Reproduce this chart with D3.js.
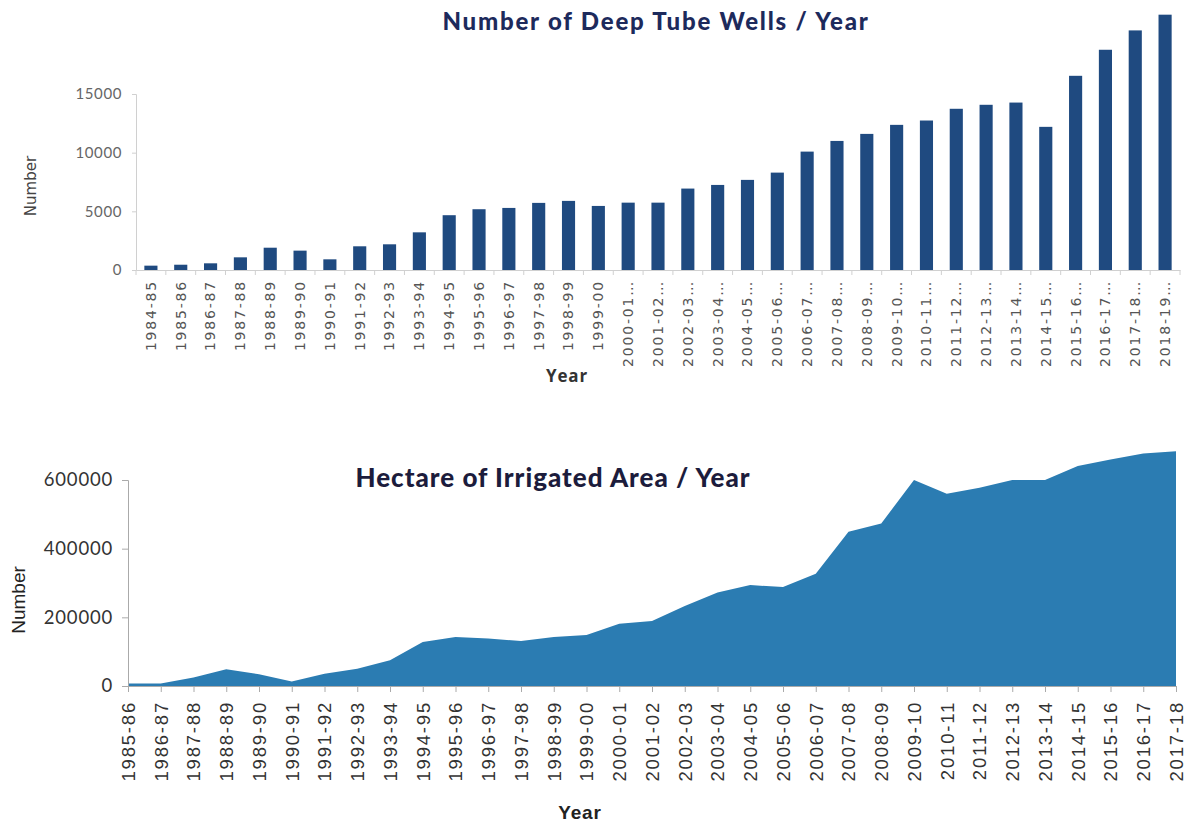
<!DOCTYPE html>
<html>
<head>
<meta charset="utf-8">
<script src="https://cdnjs.cloudflare.com/ajax/libs/d3/7.8.5/d3.min.js"></script>
<style>
  html, body { margin: 0; padding: 0; background: #fff; }
  svg { display: block; }
</style>
</head>
<body>
<svg id="chart" width="1186" height="822"></svg>
<script>
// ---------- Data ----------
const wellYears = ["1984-85","1985-86","1986-87","1987-88","1988-89","1989-90","1990-91","1991-92","1992-93","1993-94","1994-95","1995-96","1996-97","1997-98","1998-99","1999-00","2000-01…","2001-02…","2002-03…","2003-04…","2004-05…","2005-06…","2006-07…","2007-08…","2008-09…","2009-10…","2010-11…","2011-12…","2012-13…","2013-14…","2014-15…","2015-16…","2016-17…","2017-18…","2018-19…"];
const wellCounts = [370,450,570,1080,1900,1650,910,2020,2190,3210,4670,5180,5290,5720,5890,5460,5740,5740,6940,7250,7680,8300,10090,11000,11600,12370,12740,13740,14080,14270,12200,16550,18770,20420,21760];
const wellTicks = [0,5000,10000,15000];

const areaYears = ["1985-86","1986-87","1987-88","1988-89","1989-90","1990-91","1991-92","1992-93","1993-94","1994-95","1995-96","1996-97","1997-98","1998-99","1999-00","2000-01","2001-02","2002-03","2003-04","2004-05","2005-06","2006-07","2007-08","2008-09","2009-10","2010-11","2011-12","2012-13","2013-14","2014-15","2015-16","2016-17","2017-18"];
const areaValues = [7000,7000,24500,48600,34000,12800,36000,50600,74800,128000,142700,138000,131000,142700,148500,181600,189000,233000,272000,294000,288000,327000,449000,473500,599700,560000,577600,600000,600000,640500,660000,677500,684000];
const areaTicks = [0,200000,400000,600000];

const svg = d3.select("#chart");

// ---------- Top chart: bars ----------
const x1 = d3.scaleBand().domain(wellYears).range([136, 1180]).paddingInner(0.56).paddingOuter(0.28);
const y1 = d3.scaleLinear().domain([0, 15000]).range([270, 94]);

const topG = svg.append("g");

topG.append("text")
  .attr("x", 656).attr("y", 30)
  .attr("text-anchor", "middle")
  .attr("font-family", "Lato, 'Open Sans', sans-serif")
  .attr("font-weight", 900)
  .attr("font-size", 24)
  .attr("letter-spacing", 1.8)
  .attr("fill", "#1d2a5c")
  .text("Number of Deep Tube Wells / Year");

// y axis
const yAx1 = topG.append("g").attr("transform", "translate(136,0)")
  .call(d3.axisLeft(y1).tickValues(wellTicks).tickSize(4).tickPadding(10).tickFormat(d3.format("d")));
yAx1.select(".domain").attr("stroke", "#d0d0d0");
yAx1.selectAll(".tick line").attr("stroke", "#d0d0d0");
yAx1.selectAll("text").attr("font-family", "Lato, 'Open Sans', sans-serif").attr("font-size", 15).attr("letter-spacing", 0.6).attr("fill", "#666");

// bars
topG.append("g").selectAll("rect").data(wellYears).join("rect")
  .attr("x", (d) => x1(d))
  .attr("width", x1.bandwidth())
  .attr("y", (d, i) => y1(wellCounts[i]))
  .attr("height", (d, i) => y1(0) - y1(wellCounts[i]))
  .attr("fill", "#1f4a80");

// x axis
const xAx1 = topG.append("g").attr("transform", `translate(0,${y1(0)})`)
  .call(d3.axisBottom(x1).tickSize(0).tickPadding(10));
xAx1.select(".domain").attr("stroke", "#d0d0d0");
xAx1.selectAll("text")
  .attr("transform", "rotate(-90)")
  .attr("text-anchor", "end")
  .attr("dx", "-10px").attr("dy", "0.35em").attr("y", 0)
  .attr("font-family", "'DejaVu Sans', sans-serif")
  .attr("font-size", 14)
  .attr("letter-spacing", 1.8)
  .attr("fill", "#555");
// separator ticks between bands
const step1 = x1.step();
topG.append("g").selectAll("line").data(wellYears.concat(["__end"])).join("line")
  .attr("x1", (d, i) => x1(wellYears[0]) - step1 * 0.28 + i * step1)
  .attr("x2", (d, i) => x1(wellYears[0]) - step1 * 0.28 + i * step1)
  .attr("y1", y1(0)).attr("y2", y1(0) + 5)
  .attr("stroke", "#d0d0d0");

topG.append("text")
  .attr("transform", "translate(36,186) rotate(-90)")
  .attr("text-anchor", "middle")
  .attr("font-family", "'DejaVu Sans', sans-serif")
  .attr("font-size", 15)
  .attr("fill", "#444")
  .text("Number");

topG.append("text")
  .attr("x", 567).attr("y", 382)
  .attr("text-anchor", "middle")
  .attr("font-family", "'Open Sans', Lato, sans-serif")
  .attr("font-weight", 700)
  .attr("font-size", 17)
  .attr("letter-spacing", 0.8)
  .attr("fill", "#333")
  .text("Year");

// ---------- Bottom chart: area ----------
const x2 = d3.scalePoint().domain(areaYears).range([128, 1176]);
const y2 = d3.scaleLinear().domain([0, 600000]).range([686, 480]);

const botG = svg.append("g");

const area = d3.area()
  .x((d) => x2(d))
  .y0(y2(0))
  .y1((d, i) => y2(areaValues[i]));

botG.append("path").datum(areaYears).attr("d", area).attr("fill", "#2b7cb2");

const yAx2 = botG.append("g").attr("transform", "translate(128,0)")
  .call(d3.axisLeft(y2).tickValues(areaTicks).tickSize(6).tickPadding(9).tickFormat(d3.format("d")));
yAx2.select(".domain").attr("stroke", "#aaa");
yAx2.selectAll(".tick line").attr("stroke", "#aaa");
yAx2.selectAll("text").attr("font-family", "Lato, 'Open Sans', sans-serif").attr("font-size", 18.5).attr("letter-spacing", 0.8).attr("fill", "#333");

const xAx2 = botG.append("g").attr("transform", `translate(0,${y2(0)})`)
  .call(d3.axisBottom(x2).tickSize(6).tickPadding(10));
xAx2.select(".domain").attr("stroke", "#aaa");
xAx2.selectAll(".tick line").attr("stroke", "#aaa");
xAx2.selectAll("text")
  .attr("transform", "rotate(-90)")
  .attr("text-anchor", "end")
  .attr("dx", "-15px").attr("dy", "0.35em").attr("y", 0)
  .attr("font-family", "'Liberation Sans', Arial, sans-serif")
  .attr("font-size", 18.5)
  .attr("letter-spacing", 1.8)
  .attr("fill", "#333");

botG.append("text")
  .attr("x", 553).attr("y", 487)
  .attr("text-anchor", "middle")
  .attr("font-family", "Lato, 'Open Sans', sans-serif")
  .attr("font-weight", 900)
  .attr("font-size", 26)
  .attr("letter-spacing", 1.0)
  .attr("fill", "#1c1c3c")
  .text("Hectare of Irrigated Area / Year");

botG.append("text")
  .attr("transform", "translate(25,600) rotate(-90)")
  .attr("text-anchor", "middle")
  .attr("font-family", "'Liberation Sans', Arial, sans-serif")
  .attr("font-size", 19)
  .attr("fill", "#222")
  .text("Number");

botG.append("text")
  .attr("x", 580).attr("y", 819)
  .attr("text-anchor", "middle")
  .attr("font-family", "'Liberation Sans', Arial, sans-serif")
  .attr("font-weight", 700)
  .attr("font-size", 19)
  .attr("letter-spacing", 0.8)
  .attr("fill", "#222")
  .text("Year");
</script>
</body>
</html>
